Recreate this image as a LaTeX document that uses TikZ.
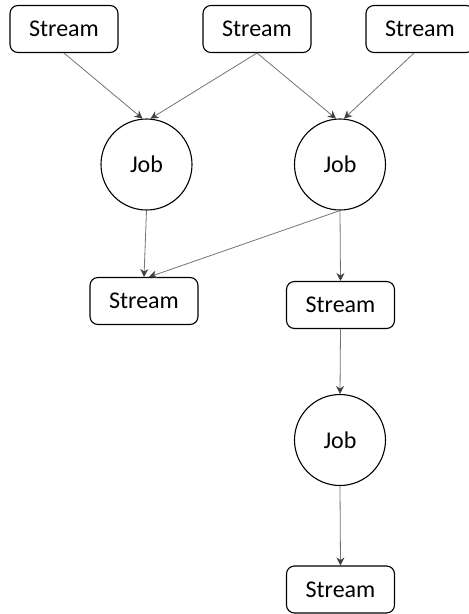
\documentclass[tikz,border=0pt]{standalone}
\usepackage{fontspec}
\setmainfont{Carlito}
\usetikzlibrary{arrows.meta}

\begin{document}
\begin{tikzpicture}[x=1pt, y=-1pt,
    stream/.style={draw, rounded corners=8pt, line width=1.1pt, minimum width=108pt, minimum height=47pt, inner sep=0pt, font=\fontsize{24}{27}\selectfont},
    job/.style={draw, circle, line width=1.1pt, minimum size=91pt, inner sep=0pt, font=\fontsize{24}{27}\selectfont},
    flow/.style={draw=black!55, line width=0.8pt, -{Stealth[length=8pt, width=8pt, color=black!75]}}]
            \clip (0,0) rectangle (469,614);
            % Nodos
            \node[stream] (s1) at (64,29) {Stream};
            \node[stream] (s2) at (257,29) {Stream};
            \node[stream] (s3) at (420,29) {Stream};
            \node[job] (j1) at (146.5,164.5) {Job};
            \node[job] (j2) at (340,164.5) {Job};
            \node[stream] (s4) at (144,301) {Stream};
            \node[stream] (s5) at (340.5,305) {Stream};
            \node[job] (j3) at (340,440) {Job};
            \node[stream] (s6) at (340.5,589.5) {Stream};

            % Aristas
            \draw[flow] (s1.south) -- (j1.95);
            \draw[flow] (s2.south) -- (j1.85);
            \draw[flow] (s2.south) -- (j2.95);
            \draw[flow] ([xshift=-6pt]s3.south) -- (j2.85);
            \draw[flow] (j1.south) -- (s4.north);
            \draw[flow] (j2.south) -- ([xshift=5pt]s4.north);
            \draw[flow] (j2.south) -- (s5.north);
            \draw[flow] (s5.south) -- (j3.north);
            \draw[flow] (j3.south) -- (s6.north);
\end{tikzpicture}
\end{document}
